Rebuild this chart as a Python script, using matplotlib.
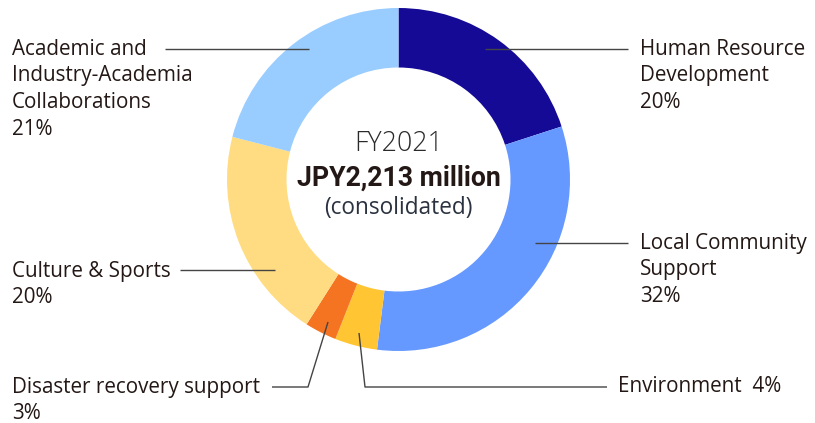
import matplotlib
matplotlib.use("Agg")
import matplotlib.pyplot as plt

# Breakdown of FY2021 social contribution spending (share of total, %)
categories = [
    "Human Resource Development",
    "Local Community Support",
    "Environment",
    "Disaster recovery support",
    "Culture & Sports",
    "Academic and Industry-Academia Collaborations",
]
shares = [20, 32, 4, 3, 20, 21]
colors = ["#140a96", "#6699ff", "#ffc533", "#f47421", "#ffdc82", "#99ccff"]

label_texts = [
    "Human Resource\nDevelopment\n20%",
    "Local Community\nSupport\n32%",
    "Environment  4%",
    "Disaster recovery support\n3%",
    "Culture & Sports\n20%",
    "Academic and\nIndustry-Academia\nCollaborations\n21%",
]

center_title = "FY2021"
center_total = "JPY2,213 million"
center_note = "(consolidated)"

W, H = 815, 423
fig = plt.figure(figsize=(W / 100, H / 100), dpi=100)
ax = fig.add_axes([0, 0, 1, 1])

TXT = "#231815"
LINE = "#444444"
FONT = ["Open Sans", "DejaVu Sans"]

def py(y):
    # convert a top-down pixel row into the axes' bottom-up coordinate
    return H - y

cx, cy = 398.5, py(179.5)
r_out, r_in = 171.5, 112.0

ax.pie(shares, colors=colors, startangle=90, counterclock=False,
       center=(cx, cy), radius=r_out,
       wedgeprops=dict(width=r_out - r_in, linewidth=0))

ax.set_xlim(0, W)
ax.set_ylim(0, H)
ax.set_aspect("equal")
ax.axis("off")

# leader lines (pixel rows measured top-down)
leaders = [
    [(485, 49), (628, 49)],
    [(535, 243), (628, 243)],
    [(359, 333), (365, 387), (607, 387)],
    [(328, 322), (308, 387), (272, 387)],
    [(275, 270), (180, 270)],
    [(309, 49), (165, 49)],
]
for pts in leaders:
    xs = [p[0] for p in pts]
    ys = [py(p[1]) for p in pts]
    ax.plot(xs, ys, color=LINE, lw=1.0, solid_capstyle="butt")

# label anchors: (x, top-line centre y)
anchors = [
    (640, 48),
    (640, 242),
    (618, 386),
    (12, 386),
    (12, 270),
    (12, 48),
]
fs = 14.9
for text, (x, y) in zip(label_texts, anchors):
    ax.text(x, py(y) + 9.5, text, ha="left", va="top", fontsize=fs, color=TXT,
            family=FONT, linespacing=1.36)

ax.text(cx, py(144), center_title, ha="center", va="center", fontsize=19.3,
        color="#2a2a2a", family=FONT, fontweight="light")
ax.text(cx, py(178), center_total, ha="center", va="center", fontsize=19.2,
        color=TXT, family=["Roboto", "DejaVu Sans"], fontweight="bold")
ax.text(cx, py(208), center_note, ha="center", va="center", fontsize=16.3,
        color="#2b3340", family=FONT)

fig.savefig("out.png", dpi=100, facecolor="white")
